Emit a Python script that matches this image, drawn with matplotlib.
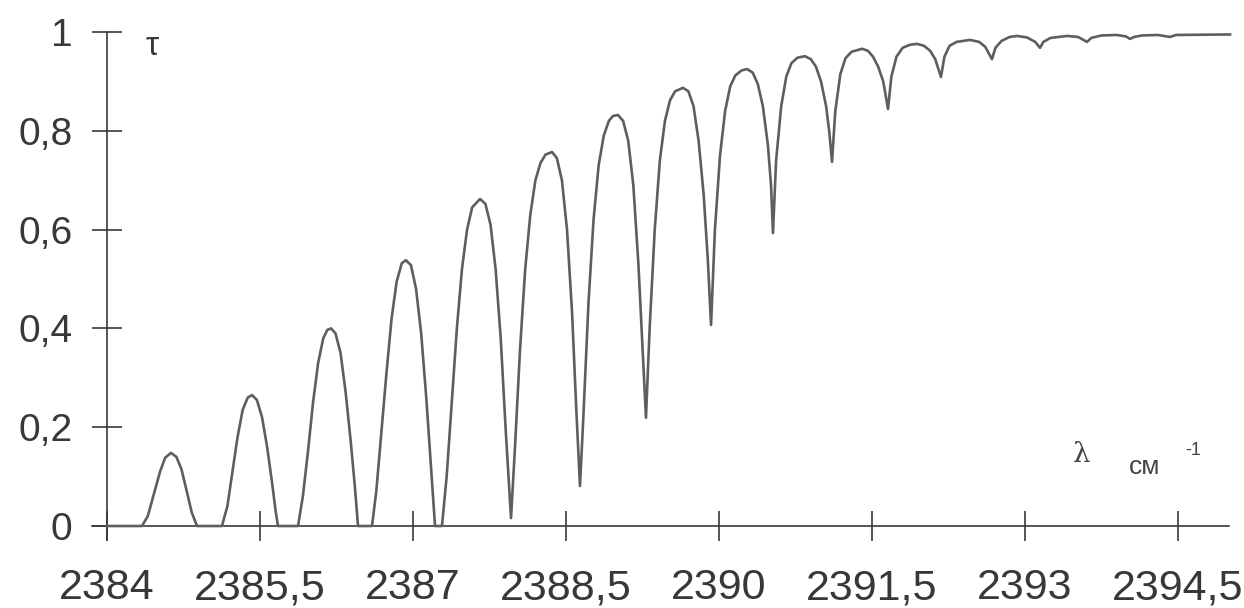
import matplotlib
matplotlib.use("Agg")
import matplotlib.pyplot as plt
import numpy as np

wn = [2384.000, 2384.343,
      2384.40, 2384.46, 2384.52, 2384.57, 2384.627, 2384.68, 2384.73, 2384.78, 2384.83, 2384.882,
      2385.127, 2385.18, 2385.23, 2385.28, 2385.33, 2385.38, 2385.422, 2385.47, 2385.52, 2385.57,
      2385.62, 2385.65, 2385.676,
      2385.873, 2385.92, 2385.97, 2386.02, 2386.07, 2386.12, 2386.16, 2386.196, 2386.24, 2386.29,
      2386.34, 2386.39, 2386.43, 2386.461,
      2386.598, 2386.64, 2386.69, 2386.74, 2386.79, 2386.84, 2386.89, 2386.931, 2386.98, 2387.03,
      2387.08, 2387.13, 2387.18, 2387.216,
      2387.284, 2387.33, 2387.38, 2387.43, 2387.48, 2387.53, 2387.58, 2387.657, 2387.71, 2387.76,
      2387.81, 2387.86, 2387.91, 2387.961,
      2388.00, 2388.05, 2388.10, 2388.15, 2388.20, 2388.25, 2388.30, 2388.363, 2388.41, 2388.46,
      2388.51, 2388.56, 2388.60, 2388.637,
      2388.67, 2388.72, 2388.77, 2388.82, 2388.87, 2388.92, 2388.96, 2389.010, 2389.06, 2389.11,
      2389.16, 2389.21, 2389.25, 2389.284,
      2389.32, 2389.37, 2389.42, 2389.47, 2389.52, 2389.57, 2389.647, 2389.70, 2389.75, 2389.80,
      2389.85, 2389.89, 2389.922,
      2389.96, 2390.01, 2390.06, 2390.11, 2390.16, 2390.22, 2390.275, 2390.33, 2390.38, 2390.43,
      2390.48, 2390.51, 2390.529,
      2390.56, 2390.61, 2390.66, 2390.71, 2390.77, 2390.843, 2390.90, 2390.95, 2391.00, 2391.05,
      2391.08, 2391.108,
      2391.14, 2391.19, 2391.24, 2391.30, 2391.402, 2391.46, 2391.51, 2391.56, 2391.61, 2391.657,
      2391.69, 2391.74, 2391.80, 2391.87, 2391.941, 2392.01, 2392.07, 2392.12, 2392.176,
      2392.21, 2392.26, 2392.33, 2392.461, 2392.55, 2392.61, 2392.676,
      2392.71, 2392.77, 2392.85, 2392.922, 2393.02, 2393.10, 2393.147,
      2393.18, 2393.25, 2393.412, 2393.52, 2393.608,
      2393.65, 2393.75, 2393.90, 2393.99, 2394.029,
      2394.07, 2394.15, 2394.30, 2394.422, 2394.48, 2395.010]
tau = [0.0, 0.0,
       0.02, 0.065, 0.11, 0.138, 0.148, 0.140, 0.115, 0.072, 0.028, 0.0,
       0.0, 0.04, 0.11, 0.18, 0.235, 0.26, 0.265, 0.255, 0.22, 0.16,
       0.085, 0.035, 0.0,
       0.0, 0.06, 0.15, 0.25, 0.33, 0.38, 0.397, 0.40, 0.39, 0.35,
       0.27, 0.17, 0.08, 0.0,
       0.0, 0.07, 0.19, 0.31, 0.42, 0.495, 0.532, 0.538, 0.528, 0.48,
       0.39, 0.26, 0.11, 0.0,
       0.0, 0.10, 0.25, 0.40, 0.52, 0.60, 0.645, 0.662, 0.652, 0.61,
       0.52, 0.38, 0.19, 0.016,
       0.16, 0.36, 0.52, 0.63, 0.70, 0.735, 0.752, 0.757, 0.745, 0.70,
       0.60, 0.43, 0.24, 0.081,
       0.22, 0.45, 0.62, 0.73, 0.79, 0.82, 0.83, 0.832, 0.82, 0.78,
       0.69, 0.53, 0.36, 0.219,
       0.40, 0.60, 0.74, 0.82, 0.862, 0.88, 0.887, 0.88, 0.85, 0.78,
       0.67, 0.54, 0.407,
       0.60, 0.75, 0.84, 0.89, 0.912, 0.922, 0.925, 0.918, 0.895, 0.85,
       0.77, 0.69, 0.593,
       0.74, 0.85, 0.91, 0.937, 0.948, 0.951, 0.945, 0.93, 0.90, 0.85,
       0.80, 0.737,
       0.84, 0.915, 0.947, 0.96, 0.966, 0.962, 0.95, 0.93, 0.90, 0.844,
       0.91, 0.95, 0.968, 0.974, 0.976, 0.972, 0.962, 0.945, 0.909,
       0.95, 0.972, 0.98, 0.984, 0.98, 0.97, 0.945,
       0.968, 0.982, 0.99, 0.992, 0.989, 0.98, 0.968,
       0.98, 0.988, 0.992, 0.99, 0.98,
       0.988, 0.993, 0.994, 0.991, 0.986,
       0.99, 0.993, 0.994, 0.99, 0.994, 0.995]

x_ticks = [2384, 2385.5, 2387, 2388.5, 2390, 2391.5, 2393, 2394.5]
x_labels = ["2384", "2385,5", "2387", "2388,5", "2390", "2391,5", "2393", "2394,5"]
y_ticks = [0, 0.2, 0.4, 0.6, 0.8, 1]
y_labels = ["0", "0,2", "0,4", "0,6", "0,8", "1"]

plt.rcParams["font.family"] = ["Liberation Sans", "DejaVu Sans"]
axis_col = "#3a3a3a"
text_col = "#383838"

fig = plt.figure(figsize=(12.44, 6.08), dpi=100)
ax = fig.add_axes([0, 0, 1, 1])
ax.set_xlim(2384 - 107 / 102, 2384 + 1137 / 102)
ax.set_ylim(-82 / 494, 526 / 494)

ax.plot(wn, tau, color="#5e5e5e", lw=1.9, solid_joinstyle="round", zorder=3)

for s in ["top", "right"]:
    ax.spines[s].set_visible(False)
ax.spines["left"].set_position(("data", 2384))
ax.spines["bottom"].set_position(("data", 0))
ax.spines["left"].set_bounds(-0.028, 1)
ax.spines["bottom"].set_bounds(2383.853, 2395.0)
for s in ["left", "bottom"]:
    ax.spines[s].set_color(axis_col)
    ax.spines[s].set_linewidth(1.2)

ax.set_xticks(x_ticks)
ax.set_xticklabels(x_labels)
ax.set_yticks(y_ticks)
ax.set_yticklabels(y_labels)
ax.tick_params(axis="x", direction="inout", length=21, width=1.2, color=axis_col,
               labelsize=31, labelcolor=text_col, pad=20)
ax.tick_params(axis="y", direction="inout", length=22, width=1.2, color=axis_col,
               labelsize=28, labelcolor=text_col, pad=14)

ax.text(2384.38, 0.97, "τ", fontsize=24, color=text_col, ha="left", va="center")
ax.text(2393.47, 0.145, "λ", fontsize=20, color="#444444", ha="left", va="center",
        family=["DejaVu Serif"])
ax.text(2394.02, 0.12, "см", fontsize=19, color="#444444", ha="left", va="center")
ax.text(2394.57, 0.152, "-1", fontsize=13, color="#444444", ha="left", va="center")

fig.savefig("out.png", dpi=100)
